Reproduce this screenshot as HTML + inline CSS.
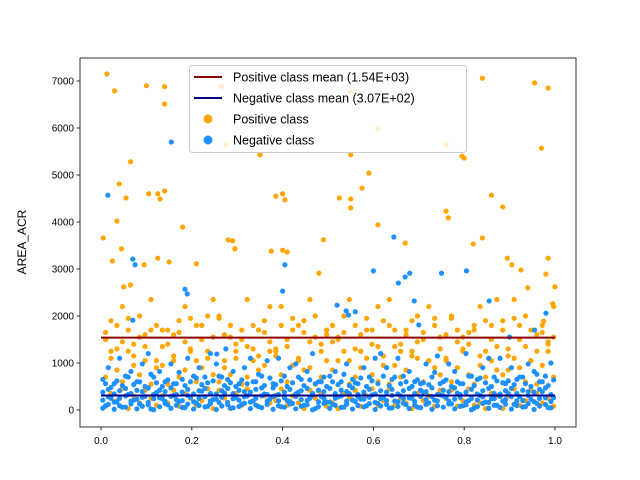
<!DOCTYPE html>
<html><head><meta charset="utf-8"><style>
body{margin:0;background:#fff;}
svg{display:block;font-family:"Liberation Sans","DejaVu Sans",sans-serif;}
</style></head><body>
<svg id="chart" width="640" height="480">
<rect x="0" y="0" width="640" height="480" fill="#fff"/>
<g id="marks"></g>
<g id="axes"></g>
</svg>
<script>
// ---- data ----
const xTicks=[0,0.2,0.4,0.6,0.8,1.0];
const xTickLabels=["0.0","0.2","0.4","0.6","0.8","1.0"];
const yTicks=[0,1000,2000,3000,4000,5000,6000,7000];
const yTickLabels=["0","1000","2000","3000","4000","5000","6000","7000"];
const posMean=1540;
const negMean=307;
const posOutX=[.013,.03,.065,.10,.14,.14,.265,.275,.35,.55,.61,.76,.84,.955,.985,.97,.795,.80,.55,.575,.59,.525,.55,.55,.04,.055,.105,.125,.14,.13,.18,.035,.005,.025,.045,.05,.065,.095,.125,.15,.21,.28,.29,.295,.385,.40,.405,.40,.41,.375,.49,.48,.61,.67,.76,.765,.82,.84,.86,.885,.895,.905,.925,.94,.98,.985,.995,.975,1.0];
const posOutY=[7150,6790,5280,6900,6880,6510,6880,5640,5430,6770,5980,5640,7060,6960,6850,5570,5400,5360,5430,4720,5040,4510,4490,4300,4810,4510,4600,4600,4660,4490,3890,4020,3660,3170,3430,2620,2660,3090,3230,3150,3110,3620,3600,3430,4550,4600,4470,3400,3360,3380,3620,2910,3940,3550,4230,4090,3530,3660,4570,4320,3230,3090,2980,2600,2890,3230,2260,1890,2620];
const negOutX=[.155,.015,.07,.075,.185,.19,.405,.40,.52,.54,.545,.60,.655,.67,.68,.75,.805,.855,.90,.955,.98,.645,.56,.69,.70,.07,.255,.275];
const negOutY=[5700,4570,3210,3090,2570,2470,3090,2530,2230,2110,2020,2960,2700,2830,2910,2910,2960,2320,1550,1700,2060,3680,2090,2320,1810,1910,1190,1300];
const negX=[0.004,0.016,0.029,0.041,0.054,0.066,0.079,0.091,0.104,0.116,0.129,0.141,0.154,0.166,0.179,0.191,0.204,0.216,0.229,0.241,0.254,0.266,0.279,0.291,0.304,0.316,0.329,0.341,0.354,0.366,0.379,0.391,0.404,0.416,0.429,0.441,0.454,0.466,0.479,0.491,0.504,0.516,0.529,0.541,0.554,0.566,0.579,0.591,0.604,0.616,0.629,0.641,0.654,0.666,0.679,0.691,0.704,0.716,0.729,0.741,0.754,0.766,0.779,0.791,0.804,0.816,0.829,0.841,0.854,0.866,0.879,0.891,0.904,0.916,0.929,0.941,0.954,0.966,0.979,0.991];
const negA=[40,120,15,90,60,130,25,80,110,5, 70,140,35,100,55,125,20,95,65,135, 10,85,115,45,75,145,30,105,50,120, 15,90,60,130,25,80,110,5,70,140, 35,100,55,125,20,95,65,135,10,85, 115,45,75,145,30,105,50,120,15,90, 60,130,25,80,110,5,70,140,35,100, 55,125,20,95,65,135,10,85,115,45];
const negB=[210,280,170,250,300,190,230,270,160,240, 260,180,290,220,200,310,175,245,285,195, 230,270,160,240,210,280,170,250,300,190, 285,195,260,180,290,220,200,310,175,245, 170,250,300,190,210,280,230,270,160,240, 200,310,175,245,260,180,290,220,285,195, 300,190,230,270,170,250,210,280,160,240, 290,220,285,195,200,310,175,245,260,180];
const negC=[380,440,340,410,460,350,420,390,470,330, 420,390,470,330,380,440,340,410,460,350, 340,410,460,350,420,390,380,440,470,330, 470,330,380,440,340,410,460,350,420,390, 460,350,420,390,470,330,380,440,340,410, 380,440,340,410,460,350,420,390,470,330, 420,390,470,330,380,440,340,410,460,350, 340,410,460,350,420,390,380,440,470,330];
const negD=[650,900,560,1100,720,820,600,980,1200,700, 820,600,980,560,650,1100,720,900,700,1200, 980,700,650,820,560,900,1100,600,720,1050, 560,1100,720,900,980,650,820,1200,600,700, 720,820,600,980,650,560,900,700,1100,1200, 900,650,1100,720,820,600,560,980,700,1150, 600,980,820,560,1200,720,650,900,1100,700, 1100,560,900,650,700,980,820,600,720,1000];
const negE=[90,250,170,60,330,210,130,290,20,370, 240,110,310,180,50,270,150,400,80,220, 160,360,40,260,120,300,190,70,340,230, 310,70,200,140,380,100,250,30,290,170, 120,280,60,350,180,230,90,320,140,260, 40,190,300,110,250,60,380,150,210,320, 270,130,360,90,200,40,310,170,240,100, 190,350,120,280,70,230,140,390,50,260];
const negF=[560,480,620,520,700,540,600,500,760,580, 500,640,560,800,520,600,680,540,580,620, 720,520,580,500,640,560,600,760,520,680, 540,620,500,580,700,520,640,560,600,500, 600,540,760,520,580,680,500,620,560,720, 520,700,560,600,500,640,580,540,800,560, 640,500,600,560,720,520,680,580,500,620, 580,620,540,700,560,500,760,600,520,640];
const posX=[0.010,0.022,0.035,0.047,0.060,0.072,0.085,0.097,0.110,0.122,0.135,0.147,0.160,0.172,0.185,0.197,0.210,0.222,0.235,0.247,0.260,0.272,0.285,0.297,0.310,0.322,0.335,0.347,0.360,0.372,0.385,0.397,0.410,0.422,0.435,0.447,0.460,0.472,0.485,0.497,0.510,0.522,0.535,0.547,0.560,0.572,0.585,0.597,0.610,0.622,0.635,0.647,0.660,0.672,0.685,0.697,0.710,0.722,0.735,0.747,0.760,0.772,0.785,0.797,0.810,0.822,0.835,0.847,0.860,0.872,0.885,0.897,0.910,0.922,0.935,0.947,0.960,0.972,0.985,0.997];
const posA=[80,350,200,450,30,300,150,420,250,100, 300,150,420,80,350,250,100,200,450,30, 420,250,30,350,100,450,200,80,300,150, 200,450,100,300,150,30,420,250,350,80, 150,30,350,250,420,80,300,450,100,200, 450,100,250,150,30,350,200,300,80,420, 250,420,80,200,450,100,150,30,350,300, 30,300,450,100,200,420,350,150,250,80];
const posB=[700,1100,850,600,1250,950,750,1050,550,900, 950,550,1050,700,850,1250,600,900,1100,750, 600,900,750,1100,550,700,1050,850,950,1250, 1250,750,600,950,1100,850,900,550,700,1050, 850,1050,1250,550,700,900,1100,750,600,950, 550,950,700,850,1250,1100,600,1050,900,750, 1100,600,900,1250,750,550,950,700,1050,850, 750,850,1100,900,600,1050,550,950,1250,700];
const posC=[1500,1900,1300,2200,1700,1400,2000,1600,2350,1800, 1700,1400,1600,1900,2200,1300,1800,1500,2000,2350, 2000,1600,1800,1400,1500,2350,1300,1700,1900,2200, 1300,2200,1500,1700,1800,1900,2350,2000,1400,1600, 1800,1500,2000,2350,1300,1600,1700,1400,2200,1900, 2350,1700,1400,1600,1900,2000,1500,2200,1800,1300, 1600,2000,1700,1300,1400,1800,2200,1900,1500,2350, 1900,1300,2350,1500,2000,1700,1600,1800,1400,2200];
const posD=[1650,1250,1800,1450,1950,1150,1550,1350,1700,1050, 1350,1700,1150,1650,1450,1950,1050,1800,1250,1550, 1950,1050,1550,1250,1700,1350,1800,1150,1650,1450, 1150,1800,1350,1950,1050,1650,1450,1550,1250,1700, 1450,1550,1650,1050,1800,1250,1950,1700,1350,1150, 1800,1350,1250,1700,1150,1450,1650,1050,1950,1550, 1050,1950,1450,1550,1650,1700,1150,1250,1800,1350, 1700,1150,1950,1800,1350,1050,1250,1650,1450,1550];

// ---- scales ----
const L=80,R=576,T=58,B=427;
const xMin=-0.0463,xMax=1.0463,yMin=-362,yMax=7489;
const sx=v=>L+(v-xMin)/(xMax-xMin)*(R-L);
const sy=v=>B-(v-yMin)/(yMax-yMin)*(B-T);
const NS="http://www.w3.org/2000/svg";
const marks=document.getElementById('marks');
const axes=document.getElementById('axes');
function mk(tag,attrs,parent){const e=document.createElementNS(NS,tag);for(const k in attrs)e.setAttribute(k,attrs[k]);parent.appendChild(e);return e;}
const clip=mk('clipPath',{id:'pc'},marks);mk('rect',{x:L,y:T,width:R-L,height:B-T},clip);
const pg=mk('g',{'clip-path':'url(#pc)'},marks);
function dots(xs,ys,color,name){
  for(let i=0;i<xs.length;i++){
    const c=mk('circle',{cx:sx(xs[i]),cy:sy(ys[i]),r:2.6,fill:color},pg);
    
    
  }
}
dots(posOutX,posOutY,'#FFA500','positive-point');
dots(posX,posD,'#FFA500','positive-point');
dots(posX,posC,'#FFA500','positive-point');
dots(posX,posB,'#FFA500','positive-point');
dots(posX,posA,'#FFA500','positive-point');
dots(negOutX,negOutY,'#1E90FF','negative-point');
dots(negX,negD,'#1E90FF','negative-point');
dots(posX,negF,'#1E90FF','negative-point');
dots(negX,negC,'#1E90FF','negative-point');
dots(negX,negB,'#1E90FF','negative-point');
dots(posX,negE,'#1E90FF','negative-point');
dots(negX,negA,'#1E90FF','negative-point');
const pl=mk('line',{x1:sx(0),x2:sx(1),y1:sy(posMean),y2:sy(posMean),stroke:'#8B0000','stroke-width':2},pg);


const nl=mk('line',{x1:sx(0),x2:sx(1),y1:sy(negMean),y2:sy(negMean),stroke:'#00008B','stroke-width':2},pg);



// axes frame
const fr=mk('rect',{x:L,y:T,width:R-L,height:B-T,fill:'none',stroke:'#000','stroke-width':0.8},axes);


xTicks.forEach((v,i)=>{
  const x=sx(v);
  mk('line',{x1:x,x2:x,y1:B,y2:B+3.5,stroke:'#000','stroke-width':0.8},axes);
  const t=mk('text',{x:x,y:B+17,'text-anchor':'middle','font-size':10,fill:'#000'},axes);
  t.textContent=xTickLabels[i];
  
  
});
yTicks.forEach((v,i)=>{
  const y=sy(v);
  mk('line',{x1:L-3.5,x2:L,y1:y,y2:y,stroke:'#000','stroke-width':0.8},axes);
  const t=mk('text',{x:L-6,y:y+3.6,'text-anchor':'end','font-size':10,fill:'#000'},axes);
  t.textContent=yTickLabels[i];
  
  
});
const yl=mk('text',{x:0,y:0,transform:'translate(26,242) rotate(-90)','text-anchor':'middle','font-size':12,fill:'#000'},axes);
yl.textContent='AREA_ACR';



// legend
const lg=mk('g',{},axes);


mk('rect',{x:189.5,y:65.5,width:277,height:87,rx:3,fill:'#fff','fill-opacity':0.8,stroke:'#ccc','stroke-width':1},lg);
const entries=[['line','#8B0000','Positive class mean (1.54E+03)',77],['line','#00008B','Negative class mean (3.07E+02)',98],['dot','#FFA500','Positive class',119],['dot','#1E90FF','Negative class',140]];
entries.forEach(e=>{
  const g=mk('g',{},lg);
  
  
  if(e[0]==='line')mk('line',{x1:194,x2:222,y1:e[3],y2:e[3],stroke:e[1],'stroke-width':2},g);
  else mk('circle',{cx:208,cy:e[3],r:4.5,fill:e[1]},g);
  const t=mk('text',{x:233,y:e[3]+4.5,'font-size':12.5,fill:'#000'},g);
  t.textContent=e[2];
});
</script>
</body></html>
